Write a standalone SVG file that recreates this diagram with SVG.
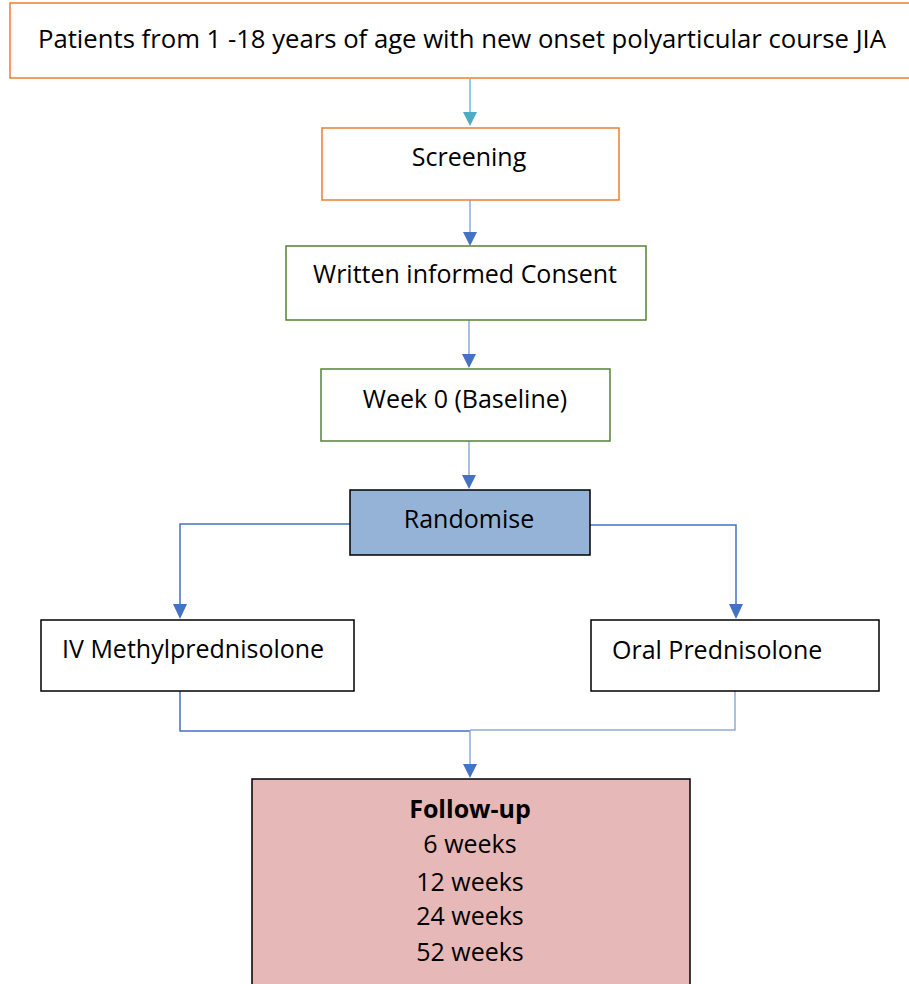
<svg xmlns="http://www.w3.org/2000/svg" width="909" height="984" viewBox="0 0 909 984">
<style>
text{font-family:"Open Sans","Noto Sans","Liberation Sans",sans-serif;font-size:25px;fill:#000}
.c{text-anchor:middle}
.ln{fill:none;stroke:#4472c4;stroke-width:1.5}
.lnl{fill:none;stroke:#8eaadb;stroke-width:1.5}
</style>
<rect width="909" height="984" fill="#fff"/>
<g id="connectors">
<line x1="470" y1="79" x2="470" y2="113" stroke="#4bacc6" stroke-width="1.2"/>
<path d="M463,112 L477,112 L470,126 Z" fill="#4bacc6"/>
<line x1="470" y1="200" x2="470" y2="233" class="lnl"/>
<path d="M463,232 L477,232 L470,246 Z" fill="#4472c4"/>
<line x1="469" y1="320" x2="469" y2="355" class="lnl"/>
<path d="M462,354 L476,354 L469,368 Z" fill="#4472c4"/>
<line x1="469" y1="441" x2="469" y2="476" class="lnl"/>
<path d="M462,475 L476,475 L469,489 Z" fill="#4472c4"/>
<polyline points="350,524 180,524 180,606" class="ln"/>
<path d="M173,604 L187,604 L180,619 Z" fill="#4472c4"/>
<polyline points="590,525 736,525 736,606" class="ln"/>
<path d="M729,604 L743,604 L736,619 Z" fill="#4472c4"/>
<polyline points="180,691 180,731 470,731" class="ln"/>
<polyline points="735,691 735,730 470,730" class="lnl"/>
<line x1="470" y1="731" x2="470" y2="765" class="lnl"/>
<path d="M463,764 L477,764 L470,778 Z" fill="#4472c4"/>
</g>
<g id="patients">
<rect x="10" y="3" width="902" height="75" fill="#fff" stroke="#ed7d31" stroke-width="1.5"/>
<text x="38" y="48" textLength="848" lengthAdjust="spacingAndGlyphs">Patients from 1 -18 years of age with new onset polyarticular course JIA</text>
</g>
<g id="screening">
<rect x="322" y="128" width="297" height="72" fill="#fff" stroke="#ed7d31" stroke-width="1.5"/>
<text x="469" y="166" class="c">Screening</text>
</g>
<g id="consent">
<rect x="286" y="246" width="360" height="74" fill="#fff" stroke="#548235" stroke-width="1.5"/>
<text x="465" y="283" class="c">Written informed Consent</text>
</g>
<g id="week0">
<rect x="321" y="369" width="289" height="72" fill="#fff" stroke="#548235" stroke-width="1.5"/>
<text x="465" y="408" class="c">Week 0 (Baseline)</text>
</g>
<g id="randomise">
<rect x="350" y="490" width="240" height="65" fill="#95b3d7" stroke="#000" stroke-width="1.5"/>
<text x="469" y="528" class="c">Randomise</text>
</g>
<g id="iv">
<rect x="41" y="620" width="313" height="71" fill="#fff" stroke="#000" stroke-width="1.5"/>
<text x="62" y="658">IV Methylprednisolone</text>
</g>
<g id="oral">
<rect x="591" y="620" width="288" height="71" fill="#fff" stroke="#000" stroke-width="1.5"/>
<text x="612" y="659">Oral Prednisolone</text>
</g>
<g id="followup">
<rect x="252" y="779" width="438" height="210" fill="#e6b8b7" stroke="#000" stroke-width="1.5"/>
<text x="470" y="818" class="c" font-weight="bold">Follow-up</text>
<text x="470" y="853" class="c">6 weeks</text>
<text x="470" y="891" class="c">12 weeks</text>
<text x="470" y="925" class="c">24 weeks</text>
<text x="470" y="961" class="c">52 weeks</text>
</g>
</svg>
